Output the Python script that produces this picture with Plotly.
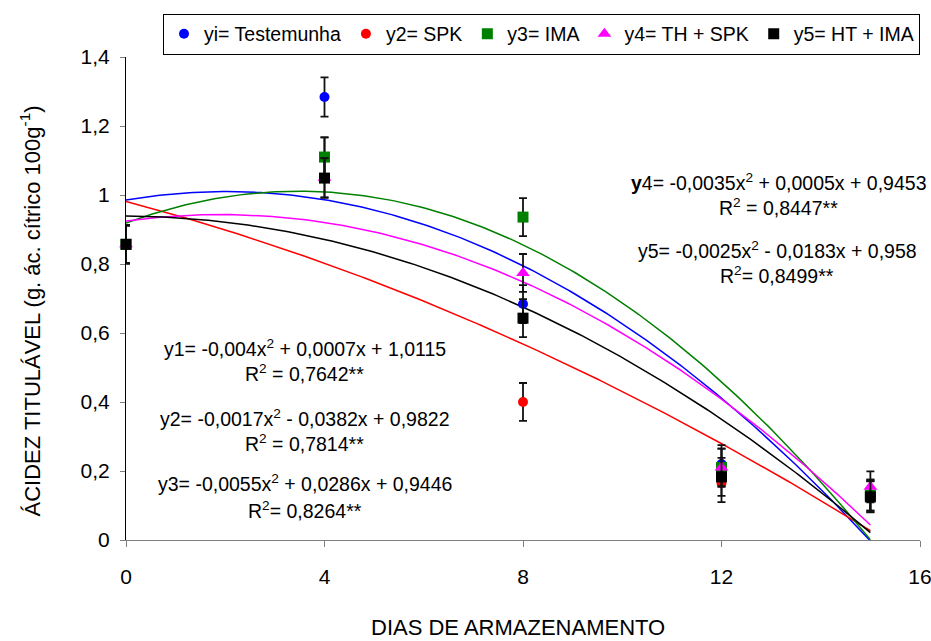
import numpy as np
import plotly.graph_objects as go

# ---- data ----
dias = [0, 4, 8, 12, 15]
y_testemunha = [0.857, 1.284, 0.684, 0.220, 0.130]
y_spk = [0.857, 1.110, 0.400, 0.165, 0.126]
y_ima = [0.857, 1.110, 0.936, 0.210, 0.130]
y_th_spk = [0.857, 1.050, 0.774, 0.210, 0.154]
y_ht_ima = [0.857, 1.049, 0.643, 0.183, 0.125]
erro = [0.055, 0.057, 0.055, 0.055, 0.045]

nomes = ["yi= Testemunha", "y2= SPK", "y3= IMA", "y4= TH + SPK", "y5= HT + IMA"]
series = [y_testemunha, y_spk, y_ima, y_th_spk, y_ht_ima]
cores = ["#0000FF", "#FF0000", "#008000", "#FF00FF", "#000000"]
simbolos = ["circle", "circle", "square", "triangle-up", "square"]
tamanhos = [10, 10, 11, 12, 11]

equacoes = [
    ("y1= -0,004x<sup>2</sup> + 0,0007x + 1,0115", "R<sup>2</sup> = 0,7642**"),
    ("y2= -0,0017x<sup>2</sup> - 0,0382x + 0,9822", "R<sup>2</sup> = 0,7814**"),
    ("y3= -0,0055x<sup>2</sup> + 0,0286x + 0,9446", "R<sup>2</sup>= 0,8264**"),
    ("<b>y</b>4= -0,0035x<sup>2</sup> + 0,0005x + 0,9453", "R<sup>2</sup> = 0,8447**"),
    ("y5= -0,0025x<sup>2</sup> - 0,0183x + 0,958", "R<sup>2</sup>= 0,8499**"),
]

FONT = "Liberation Sans, Arial, sans-serif"

fig = go.Figure()

# quadratic trendlines (least-squares fit of each series, like the spreadsheet trendline)
xs = np.linspace(min(dias), max(dias), 200)
for ys, cor in zip(series, cores):
    coef = np.polyfit(dias, ys, 2)
    fig.add_trace(go.Scatter(x=xs, y=np.polyval(coef, xs), mode="lines",
                             line=dict(color=cor, width=1.5), showlegend=False,
                             hoverinfo="skip"))

for nome, ys, cor, sim, tam in zip(nomes, series, cores, simbolos, tamanhos):
    fig.add_trace(go.Scatter(
        x=dias, y=ys, mode="markers", name=nome,
        marker=dict(color=cor, symbol=sim, size=tam, line=dict(width=0)),
        error_y=dict(type="data", array=erro, visible=True, color="#111111",
                     thickness=1.8, width=4),
        cliponaxis=False))

# equation labels
pos_eq = [  # (x, y_eq, y_r2) in data units
    (3.6, 0.557, 0.484),
    (3.6, 0.354, 0.281),
    (3.6, 0.165, 0.087),
    (13.15, 1.038, 0.965),
    (13.12, 0.841, 0.768),
]
for (eq, r2), (px, py1, py2) in zip(equacoes, pos_eq):
    fig.add_annotation(x=px, y=py1, text=eq, showarrow=False, xanchor="center",
                       yanchor="middle", font=dict(family=FONT, size=19.5, color="black"))
    fig.add_annotation(x=px, y=py2, text=r2, showarrow=False, xanchor="center",
                       yanchor="middle", font=dict(family=FONT, size=19.5, color="black"))

# axis titles
fig.add_annotation(xref="paper", yref="paper", x=0.494, y=-0.181, showarrow=False,
                   text="DIAS DE ARMAZENAMENTO", xanchor="center", yanchor="middle",
                   font=dict(family=FONT, size=22, color="black"))
fig.add_annotation(xref="paper", yref="paper", x=-0.121, y=0.475, showarrow=False,
                   text="ÁCIDEZ TITULÁVEL (g. ác. cítrico 100g<sup>-1</sup>)",
                   textangle=-90, xanchor="center", yanchor="middle",
                   font=dict(family=FONT, size=22, color="black"))

fig.update_layout(
    width=931, height=641,
    margin=dict(l=126, r=11, t=57, b=101),
    paper_bgcolor="white", plot_bgcolor="white",
    separators=", ",
    font=dict(family=FONT, color="black"),
    showlegend=True,
    legend=dict(orientation="h", x=1.0, y=1.09, xanchor="right", yanchor="top",
                bordercolor="black", borderwidth=1, bgcolor="white",
                font=dict(family=FONT, size=19.5, color="black"),
                itemwidth=30, tracegroupgap=0),
    xaxis=dict(range=[0, 16], tickvals=[0, 4, 8, 12, 16], showgrid=False,
               zeroline=False, showline=True, linecolor="#808080", linewidth=1,
               ticks="outside", ticklen=6, tickcolor="#808080", automargin=False,
               ticklabelstandoff=12, ticklabeloverflow="allow",
               tickfont=dict(family=FONT, size=21, color="black")),
    yaxis=dict(range=[0, 1.4], tickvals=[0, 0.2, 0.4, 0.6, 0.8, 1, 1.2, 1.4],
               showgrid=False, zeroline=False, showline=True, linecolor="black",
               linewidth=1, ticks="outside", ticklen=5, tickcolor="#808080",
               automargin=False, ticklabelstandoff=6,
               tickfont=dict(family=FONT, size=21, color="black")),
)

fig.write_html("out.html")
